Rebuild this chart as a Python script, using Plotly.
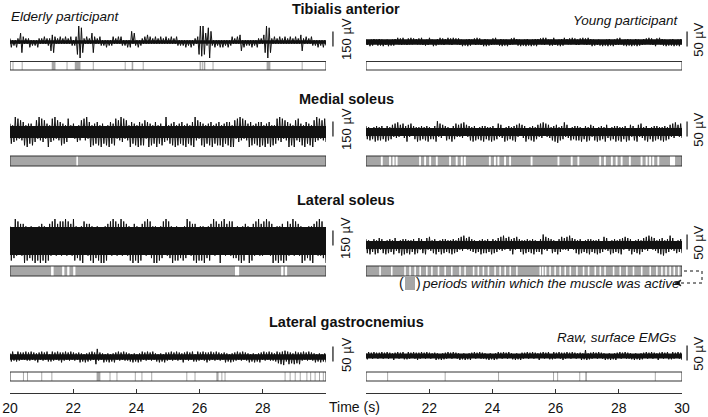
import numpy as np
import plotly.graph_objects as go

W, H = 708, 417

# ---------------------------------------------------------------- data
muscles = ["Tibialis anterior", "Medial soleus", "Lateral soleus", "Lateral gastrocnemius"]
time_ticks = [20, 22, 24, 26, 28, 30]

# Raw surface EMG, read off the picture as the size (0-9, share of the trace's
# peak) of each successive up / down swing, evenly spread over 20-30 s.
ta_old = "".join([
    "2312132156", "3121231212", "1321213122", "2546312131", "2131213212", "3799862131",
    "2156312132", "1213121231", "2131321213", "1361521312", "2131413121", "3121312131",
    "2131213212", "1213121312", "2137989752", "8962131213", "1312131231", "2131451312",
    "1213121321", "2146998621", "3121312131", "2131213121", "4521312132", "1213121312"])
ta_young = "".join([
    "4537465346", "5647354736", "4653746574", "3564746354", "6475364573", "4736547465",
    "5374657364", "6547364756", "4365746537", "5746356474", "3657464735", "6473564736",
    "4756374657", "5364757346", "4675364756", "7354647365", "4563746574", "5746354637",
    "3647563745", "6574364756", "4736574635", "5463746537", "6374564736", "4657364754"])
ms_old = "".join([
    "5746958475", "6849575836", "7495867459", "4685947568", "5746834354", "3645738594",
    "6948576849", "5738496758", "8475968475", "4967584968", "5874695847", "6947583695",
    "4758694857", "6849574869", "9574685947", "5869475868", "4957686949", "7486958475",
    "5968475869", "6849576948", "4785968475", "6958497586", "5849675849", "7695847586"])
ms_young = "".join([
    "5647364857", "4756385746", "6475846375", "5864735648", "4756475846", "3658947563",
    "5746385674", "6475836457", "4857364758", "5647485736", "7465384756", "4758647365",
    "5836475846", "6475837465", "4758694756", "8465374657", "5748365847", "6457384756",
    "4865374658", "5748465837", "6457386475", "4758364857", "5647485746", "6475836475"])
ls_old = "".join([
    "6857968576", "7968576859", "5869786958", "7685967586", "8596857698", "6758698576",
    "7869576859", "5968758695", "8675968576", "6859786958", "7586958769", "6958678596",
    "8769586857", "5867958678", "7958686957", "6875968579", "8596758687", "5768596875",
    "6958768596", "7685958679", "5869687958", "8675968576", "6958576869", "7586968759"])
ls_young = "".join([
    "5748365847", "6457384756", "4865374958", "5748465837", "6457386475", "4758364857",
    "5647485746", "6475836475", "5647364857", "4756385746", "6475846375", "5864735648",
    "4756475846", "3658947563", "5746385674", "6475836457", "4857364758", "5647485736",
    "7465384756", "4758647365", "5836475846", "6475837465", "4758694756", "8465374657"])
lg_old = "".join([
    "4564356453", "5364546354", "4653645365", "3564536456", "5463546354", "4356453645",
    "5463589453", "4635463546", "5364536454", "4536453645", "6354635463", "4536453654",
    "5364536453", "4653645365", "3564536456", "5463546354", "4356453645", "5463546354",
    "4635463546", "5364536454", "4567586975", "6857486758", "5463546354", "4635463546"])
lg_young = "".join([
    "4563546354", "5364536453", "4653645365", "3564536456", "5463546354", "4356453645",
    "5463546354", "4635463546", "5364536454", "4536453645", "6354635463", "4536453654",
    "5364536453", "4653645365", "3564536456", "5463546354", "4356459645", "5463546354",
    "4635463546", "5364536454", "4536453645", "5364536453", "4653645365", "3564536456"])

old_peak_uv = [160, 150, 220, 27]
young_peak_uv = [18, 36, 35, 20]
# half-height of the solid black core of each raw trace
old_core_uv = [18, 60, 140, 9]
young_core_uv = [9, 13, 13, 8]
old_bar_uv = [150, 150, 150, 50]
young_bar_uv = [50, 50, 50, 50]

# Activity periods (s). Mostly-active rows are given as their rest gaps instead.
ta_old_active = [(20.08, 20.11), (20.37, 20.40), (21.32, 21.44), (21.79, 21.82), (22.05, 22.23),
                 (22.62, 22.65), (23.63, 23.66), (23.85, 23.90), (24.20, 24.23), (26.00, 26.04),
                 (26.07, 26.10), (26.13, 26.18), (26.41, 26.44), (28.12, 28.24), (29.23, 29.26)]
ta_young_active = []
ms_old_rest = [(22.10, 22.15)]
ms_young_rest = [(20.47, 20.53), (20.73, 20.79), (20.84, 20.90), (20.94, 21.00), (21.68, 21.74),
                 (21.84, 21.90), (22.00, 22.06), (22.21, 22.27), (22.63, 22.69), (22.84, 22.90),
                 (23.00, 23.06), (23.10, 23.16), (23.89, 23.95), (24.05, 24.11), (24.16, 24.22),
                 (24.37, 24.43), (24.53, 24.59), (25.21, 25.27), (26.06, 26.12), (26.48, 26.54),
                 (26.69, 26.75), (27.38, 27.44), (27.53, 27.59), (27.75, 27.81), (27.90, 27.96),
                 (28.06, 28.12), (28.32, 28.38), (28.69, 28.75), (28.85, 28.91), (28.96, 29.02),
                 (29.06, 29.12), (29.22, 29.28), (29.62, 29.78)]
ls_old_rest = [(21.30, 21.38), (21.65, 21.72), (21.81, 21.88), (22.00, 22.07), (27.12, 27.25),
               (28.58, 28.65), (28.70, 28.77)]
ls_young_rest = [(20.42, 20.47), (20.79, 20.84), (21.21, 21.26), (21.37, 21.42), (21.53, 21.58),
                 (21.69, 21.74), (21.90, 21.95), (22.06, 22.11), (22.27, 22.32), (22.48, 22.53),
                 (22.69, 22.74), (22.95, 23.00), (23.11, 23.16), (23.38, 23.43), (23.53, 23.58),
                 (23.69, 23.74), (23.85, 23.90), (24.06, 24.11), (24.22, 24.27), (24.38, 24.43),
                 (24.54, 24.59), (24.75, 24.80), (25.49, 25.54), (25.57, 25.62), (25.66, 25.71),
                 (25.80, 25.85), (25.96, 26.01), (26.12, 26.17), (26.28, 26.33), (26.44, 26.49),
                 (26.65, 26.70), (26.86, 26.91), (27.02, 27.07), (27.23, 27.28), (27.39, 27.44),
                 (27.54, 27.59), (27.81, 27.86), (28.02, 28.07), (28.23, 28.28), (28.44, 28.49),
                 (28.70, 28.75), (28.97, 29.02), (29.18, 29.23), (29.34, 29.39), (29.47, 29.52),
                 (29.60, 29.65), (29.73, 29.78), (29.87, 29.92)]
lg_old_active = [(20.41, 20.44), (20.54, 20.57), (20.99, 21.02), (21.31, 21.34), (22.74, 22.86),
                 (23.15, 23.18), (23.37, 23.40), (23.95, 23.98), (24.16, 24.19), (24.47, 24.50),
                 (25.58, 25.61), (25.84, 25.87), (26.53, 26.60), (26.69, 26.72), (26.79, 26.82),
                 (28.69, 28.72), (28.85, 28.88), (29.01, 29.04), (29.17, 29.20), (29.38, 29.41),
                 (29.50, 29.53), (29.64, 29.67), (29.78, 29.81), (29.90, 29.93)]
lg_young_active = [(20.67, 20.70), (22.49, 22.52), (24.18, 24.21), (25.92, 25.95), (26.05, 26.08),
                   (26.75, 26.78), (26.94, 26.99), (29.14, 29.17)]

# ---------------------------------------------------------------- layout (pixels)
FONT = "Liberation Sans, Arial, sans-serif"
INK = "#111111"
GRAY = "#a6a6a6"
col_px = [(10, 326), (366, 682)]
trace_y = [[42, 132, 241, 357], [42, 132, 245, 356]]
box_y = [(61.5, 70), (156, 166), (266, 276), (372, 381)]
title_y = [9, 99, 200, 322]
half_px = 30  # half height of each trace strip


def px_x(px):
    return px / W


def px_y(py):
    return 1 - py / H


def swings(digits, peak):
    a = np.array([int(c) for c in digits]) / 9 * peak
    return np.where(np.arange(len(a)) % 2 == 0, a, -a)


emg = [[ta_old, ms_old, ls_old, lg_old], [ta_young, ms_young, ls_young, lg_young]]
peaks = [old_peak_uv, young_peak_uv]
cores = [old_core_uv, young_core_uv]
bars = [old_bar_uv, young_bar_uv]
boxes = [
    [("active", ta_old_active), ("rest", ms_old_rest), ("rest", ls_old_rest), ("active", lg_old_active)],
    [("active", ta_young_active), ("rest", ms_young_rest), ("rest", ls_young_rest), ("active", lg_young_active)],
]

fig = go.Figure()
shapes, annotations = [], []
layout = {}

n = 0
for c in range(2):
    xname = "x" if c == 0 else "x2"
    for r in range(4):
        n += 1
        yname = "y" if n == 1 else f"y{n}"
        uv_per_px = bars[c][r] / 15  # scale bar is 15 px tall
        yc = trace_y[c][r]
        layout["yaxis" if n == 1 else f"yaxis{n}"] = dict(
            domain=[px_y(yc + half_px), px_y(yc - half_px)],
            range=[-half_px * uv_per_px, half_px * uv_per_px],
            anchor=xname, visible=False, fixedrange=True, automargin=False,
        )
        # solid core of the dense signal
        shapes.append(dict(type="rect", xref=xname, yref=yname, x0=20, x1=30,
                           y0=-cores[c][r], y1=cores[c][r], fillcolor=INK, line=dict(width=0)))
        y = swings(emg[c][r], peaks[c][r])
        t = np.linspace(20, 30, len(y))
        fig.add_trace(go.Scatter(
            x=t, y=y, xaxis=xname, yaxis=yname, mode="lines",
            line=dict(color=INK, width=1), hoverinfo="skip", showlegend=False,
        ))

        # scale bar and its label
        bx = 1.022 if c == 0 else 1.016
        lx = 1.063 if c == 0 else 1.050
        shapes.append(dict(type="line", xref=f"{xname} domain", yref=yname,
                           x0=bx, x1=bx, y0=-0.3 * bars[c][r], y1=0.7 * bars[c][r],
                           line=dict(color=INK, width=1.2)))
        annotations.append(dict(xref=f"{xname} domain", yref=yname, x=lx, y=0.2 * bars[c][r],
                                text=f"{bars[c][r]} µV", textangle=-90, showarrow=False,
                                font=dict(family=FONT, size=13, color=INK),
                                xanchor="center", yanchor="middle"))

        # activity box
        kind, spans = boxes[c][r]
        y0, y1 = px_y(box_y[r][1]), px_y(box_y[r][0])
        shapes.append(dict(type="rect", xref=xname, yref="paper", x0=20, x1=30, y0=y0, y1=y1,
                           fillcolor=GRAY if kind == "rest" else "white", line=dict(width=0),
                           layer="below"))
        for s0, s1 in spans:
            shapes.append(dict(type="rect", xref=xname, yref="paper", x0=s0, x1=s1, y0=y0, y1=y1,
                               fillcolor="white" if kind == "rest" else GRAY, line=dict(width=0),
                               layer="below"))
        shapes.append(dict(type="rect", xref=xname, yref="paper", x0=20, x1=30, y0=y0, y1=y1,
                           line=dict(color="#333333", width=1)))

# muscle titles
for name, ty in zip(muscles, title_y):
    annotations.append(dict(xref="paper", yref="paper", x=px_x(346), y=px_y(ty), text=f"<b>{name}</b>",
                            showarrow=False, xanchor="center", yanchor="middle",
                            font=dict(family=FONT, size=14.5, color=INK)))

italic = dict(family=FONT, size=13.5, color=INK)
plain = dict(family=FONT, size=14, color=INK)
annotations += [
    dict(xref="paper", yref="paper", x=px_x(9), y=px_y(17), text="<i>Elderly participant</i>",
         showarrow=False, xanchor="left", yanchor="middle", font=italic),
    dict(xref="paper", yref="paper", x=px_x(681), y=px_y(20), text="<i>Young participant</i>",
         showarrow=False, xanchor="right", yanchor="middle", font=italic),
    dict(xref="paper", yref="paper", x=px_x(679), y=px_y(337), text="<i>Raw, surface EMGs</i>",
         showarrow=False, xanchor="right", yanchor="middle", font=italic),
    dict(xref="paper", yref="paper", x=px_x(420), y=px_y(283),
         text="<i>periods within which the muscle was active</i>",
         showarrow=False, xanchor="left", yanchor="middle", font=italic),
    dict(xref="paper", yref="paper", x=px_x(401), y=px_y(283), text="(",
         showarrow=False, xanchor="center", yanchor="middle", font=plain),
    dict(xref="paper", yref="paper", x=px_x(418.5), y=px_y(283), text=")",
         showarrow=False, xanchor="center", yanchor="middle", font=plain),
    dict(xref="paper", yref="paper", x=px_x(354), y=px_y(407), text="Time (s)",
         showarrow=False, xanchor="center", yanchor="middle", font=plain),
]

# legend swatch and dotted pointer
shapes.append(dict(type="rect", xref="paper", yref="paper", x0=px_x(405), x1=px_x(415),
                   y0=px_y(290), y1=px_y(276), fillcolor=GRAY, line=dict(width=0)))
shapes.append(dict(type="path", xref="paper", yref="paper",
                   path=f"M {px_x(684)} {px_y(271)} L {px_x(702)} {px_y(271)} "
                        f"L {px_x(702)} {px_y(283)} L {px_x(680)} {px_y(283)}",
                   line=dict(color=INK, width=1, dash="dot")))
shapes.append(dict(type="path", xref="paper", yref="paper",
                   path=f"M {px_x(675)} {px_y(283)} L {px_x(681)} {px_y(280)} "
                        f"L {px_x(679)} {px_y(283)} L {px_x(681)} {px_y(286)} Z",
                   fillcolor=INK, line=dict(color=INK, width=0.8)))

axis_common = dict(range=[20, 30], anchor="free", position=px_y(392.5), showline=True,
                   linecolor="#333333", linewidth=1, ticks="inside", ticklen=4, tickcolor="#333333",
                   tickvals=time_ticks, showgrid=False, zeroline=False, fixedrange=True,
                   automargin=False, ticklabelstandoff=3,
                   tickfont=dict(family=FONT, size=14, color=INK))
layout["xaxis"] = dict(domain=[px_x(col_px[0][0]), px_x(col_px[0][1])],
                       ticktext=[str(v) for v in time_ticks[:-1]] + [""], **axis_common)
layout["xaxis2"] = dict(domain=[px_x(col_px[1][0]), px_x(col_px[1][1])],
                        ticktext=[""] + [str(v) for v in time_ticks[1:]], **axis_common)

fig.update_layout(
    template="none",
    width=W, height=H,
    margin=dict(l=0, r=0, t=0, b=0, autoexpand=False),
    paper_bgcolor="white", plot_bgcolor="rgba(0,0,0,0)",
    shapes=shapes, annotations=annotations,
    showlegend=False,
    **layout,
)

# drop the browser's default 8 px page margin so the figure fills the window
fig.write_html("out.html", config={"displayModeBar": False, "responsive": False},
               post_script="document.body.style.margin = '0';")
